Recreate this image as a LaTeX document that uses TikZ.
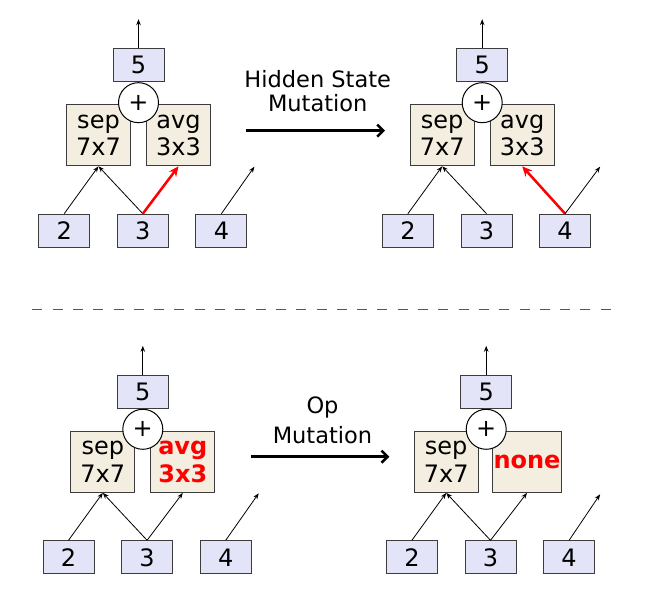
\documentclass[tikz,border=0pt]{standalone}
\usepackage{fontspec}
\setmainfont{DejaVu Sans}
\usetikzlibrary{arrows.meta,positioning}
\definecolor{hidfill}{HTML}{E4E4F8}
\definecolor{opfill}{HTML}{F3EEDF}
\definecolor{edge}{HTML}{3C3C3C}
\definecolor{sep}{HTML}{555555}

\begin{document}
\begin{tikzpicture}[x=1pt,y=1pt,node distance=26.6pt,
every node/.style={font=\fontsize{24}{27.5}\selectfont},
hid/.style={draw=edge,line width=1pt,fill=hidfill,minimum width=51pt,minimum height=33pt,inner sep=0pt},
op/.style={draw=edge,line width=1pt,fill=opfill,minimum width=64pt,minimum height=61pt,align=center},
add/.style={draw,line width=1pt,circle,fill=white,minimum size=40pt,inner sep=0pt},
redtxt/.style={text=red,font=\fontsize{24}{27.5}\selectfont\bfseries},
lbl/.style={align=center,font=\fontsize{22.5}{#1}\selectfont},
arr/.style={-{Stealth[length=6pt,width=4.5pt]},line width=0.8pt},
hot/.style={-{Stealth[length=10pt,width=9pt]},line width=2.5pt,draw=red},
mut/.style={-{Straight Barb[length=6pt,width=12pt]},line width=2.5pt}]
\useasboundingbox (0,0) rectangle (660,594);
% hidden state mutation, before
\begin{scope}[shift={(138.5,491.3)}]
\node[op] (sepA) at (-40,-32.6) {sep\\7x7};
\node[op] (avgA) at (40,-32.6) {avg\\3x3};
\node[add] (plusA) at (0,0) {+};
\node[hid,above=0pt of plusA] (h5A) {5};
\node[hid] (h3A) at (4.3,-128) {3};
\node[hid,left=of h3A] (h2A) {2};
\node[hid,right=of h3A] (h4A) {4};
\coordinate (outA) at ([yshift=29pt]h5A.north);
\coordinate (freeA) at ([shift={(33,47)}]h4A.north);
\end{scope}
\draw[arr] (h5A)--(outA);
\draw[arr] (h2A.north)--(sepA.south);\draw[arr] (h3A.north)--(sepA.south);
\draw[hot] (h3A.north)--(avgA.south);\draw[arr] (h4A.north)--(freeA);
% hidden state mutation, after
\begin{scope}[shift={(482.2,491.3)}]
\node[op] (sepB) at (-40,-32.6) {sep\\7x7};
\node[op] (avgB) at (40,-32.6) {avg\\3x3};
\node[add] (plusB) at (0,0) {+};
\node[hid,above=0pt of plusB] (h5B) {5};
\node[hid] (h3B) at (4.3,-128) {3};
\node[hid,left=of h3B] (h2B) {2};
\node[hid,right=of h3B] (h4B) {4};
\coordinate (outB) at ([yshift=29pt]h5B.north);
\coordinate (freeB) at ([shift={(35,47)}]h4B.north);
\end{scope}
\draw[arr] (h5B)--(outB);
\draw[arr] (h2B.north)--(sepB.south);\draw[arr] (h3B.north)--(sepB.south);
\draw[hot] (h4B.north)--(avgB.south);\draw[arr] (h4B.north)--(freeB);
% op mutation, before
\begin{scope}[shift={(142.8,164.7)}]
\node[op] (sepC) at (-40,-32.6) {sep\\7x7};
\node[op,redtxt] (avgC) at (40,-32.6) {avg\\3x3};
\node[add] (plusC) at (0,0) {+};
\node[hid,above=0pt of plusC] (h5C) {5};
\node[hid] (h3C) at (4.3,-128) {3};
\node[hid,left=of h3C] (h2C) {2};
\node[hid,right=of h3C] (h4C) {4};
\coordinate (outC) at ([yshift=29pt]h5C.north);
\coordinate (freeC) at ([shift={(33,47)}]h4C.north);
\end{scope}
\draw[arr] (h5C)--(outC);
\draw[arr] (h2C.north)--(sepC.south);\draw[arr] (h3C.north)--(sepC.south);
\draw[arr] (h3C.north)--(avgC.south);\draw[arr] (h4C.north)--(freeC);
% op mutation, after
\begin{scope}[shift={(486.2,164.7)}]
\node[op] (sepD) at (-40,-32.6) {sep\\7x7};
\node[op,redtxt,inner xsep=0.6pt] (noneD) at (40.8,-32.6) {none};
\node[add] (plusD) at (0,0) {+};
\node[hid,above=0pt of plusD] (h5D) {5};
\node[hid] (h3D) at (4.3,-128) {3};
\node[hid,left=of h3D] (h2D) {2};
\node[hid,right=of h3D] (h4D) {4};
\coordinate (outD) at ([yshift=29pt]h5D.north);
\coordinate (freeD) at ([shift={(31,46)}]h4D.north);
\end{scope}
\draw[arr] (h5D)--(outD);
\draw[arr] (h2D.north)--(sepD.south);\draw[arr] (h3D.north)--(sepD.south);
\draw[arr] (h3D.north)--(noneD.south);\draw[arr] (h4D.north)--(freeD);
% mutation labels
\node[lbl=24.5] (hsm) at (317.7,503) {Hidden State\\Mutation};
\coordinate (hsmL) at (246,463.3);\coordinate (hsmR) at (385,463.3);
\draw[mut] (hsmL)--(hsmR);
\node[lbl=30] (opm) at (322.5,173.5) {Op\\Mutation};
\coordinate (opmL) at (250.7,137.3);\coordinate (opmR) at (389.3,137.3);
\draw[mut] (opmL)--(opmR);
\draw[sep,line width=1pt,dash pattern=on 10pt off 10.3pt] (32.3,284.7)--(611.7,284.7);
\end{tikzpicture}
\end{document}
